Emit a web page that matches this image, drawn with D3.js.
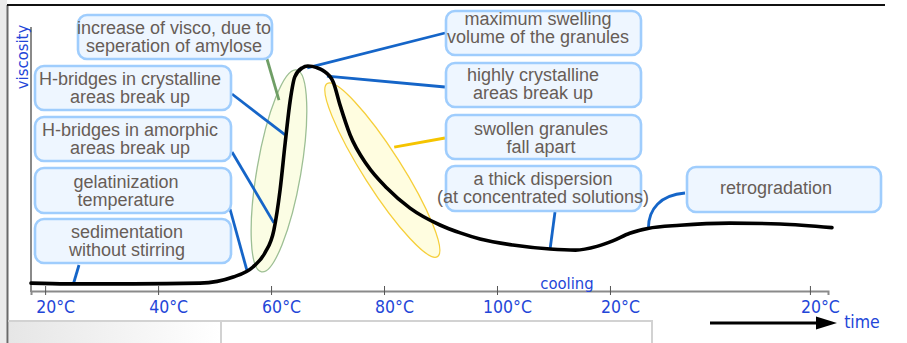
<!DOCTYPE html>
<html><head><meta charset="utf-8">
<script src="https://cdn.jsdelivr.net/npm/d3@7"></script>
<style>
html,body{margin:0;padding:0;background:#fff;}
svg{display:block;}
</style></head>
<body>
<svg id="chart" width="907" height="343"></svg>
<script>
// ---- data ----
const curveX = [17.5, 23.9, 35.6, 47.4, 53.3, 56.8, 58.9, 60.5, 61.6, 62.5, 63.4, 64.2, 65.5, 66.5, 68.1, 69.2, 71.0, 72.2, 74.0, 77.0, 80.5, 84.6, 89.9, 93.5, 97.0, 102.8, 109.4, 113.9, 117.7, 120.5, 123.5, 126.7, 132.4, 141.2, 150.1, 159.3];
const curveY = [3.0, 2.7, 2.7, 3.0, 5.3, 9.1, 14.4, 23.1, 38.3, 56.1, 72.3, 81.1, 84.5, 85.2, 84.6, 83.5, 79.2, 70.5, 59.1, 47.7, 39.0, 31.4, 25.0, 22.0, 19.7, 17.4, 15.9, 15.5, 16.9, 19.0, 21.9, 23.7, 24.9, 25.7, 25.4, 24.0];
const tickValues = [20, 40, 60, 80, 100, 120, 155.4];
const tickLabels = ["20°C", "40°C", "60°C", "80°C", "100°C", "20°C", "20°C"];
const annotationTexts = [
  ["increase of visco, due to", "seperation of amylose"],
  ["H-bridges in crystalline", "areas break up"],
  ["H-bridges in amorphic", "areas break up"],
  ["gelatinization", "temperature"],
  ["sedimentation", "without stirring"],
  ["maximum swelling", "volume of the granules"],
  ["highly crystalline", "areas break up"],
  ["swollen granules", "fall apart"],
  ["a thick dispersion", "(at concentrated solutions)"],
  ["retrogradation"]
];
// anchor points of the connectors, in data units (x, viscosity)
const anchorX = [61.4, 62.5, 60.5, 55.8, 25.0, 66.4, 69.9, 81.8, 109.4, 126.8];
const anchorY = [72.3, 59.1, 25.8, 7.2, 2.65, 84.5, 81.4, 54.5, 15.9, 23.8];
// ellipses (centre in data units)
const ellipseX = [61.4, 79.7];
const ellipseY = [45.5, 45.8];

// ---- layout (pixels) ----
const boxes = [
  {x:78, y:15, w:194, h:44, tx:174, dy:0, from:[267,59], color:"#6f9e66"},
  {x:35, y:66, w:196, h:44, tx:130, dy:0, from:[232,94], color:"#1565c8"},
  {x:35, y:117, w:196, h:44, tx:130, dy:0, from:[232,152], color:"#1565c8"},
  {x:35, y:168, w:196, h:45, tx:126, dy:0, from:[230,209], color:"#1565c8"},
  {x:35, y:219, w:196, h:44, tx:127, dy:0, from:[79,265], color:"#1565c8"},
  {x:446, y:11, w:195, h:44, tx:538, dy:-5.5, from:[445,33], color:"#1565c8"},
  {x:446, y:63, w:195, h:44, tx:533, dy:-1, from:[445,87], color:"#1565c8"},
  {x:446, y:115, w:195, h:44, tx:541, dy:0.5, from:[445,138], color:"#f5c400"},
  {x:446, y:166, w:195, h:45, tx:543, dy:-1, from:[555,212], color:"#1565c8"},
  {x:687, y:167, w:194, h:45, tx:776, dy:-1.5, from:[685,193], color:"#1565c8", arc:true}
];
const ellipseStyle = [
  {rx:22, ry:102.5, rot:9.8, fill:"#fbfde4", stroke:"#9dbf94"},
  {rx:19, ry:102.6, rot:-32.5, fill:"#fffde0", stroke:"#f6cf3a"}
];

const svg = d3.select("#chart");
const x = d3.scaleLinear().domain([17.5, 158.6]).range([31, 828]);
const y = d3.scaleLinear().domain([0, 100]).range([291, 27]);

// ---- frame ----
const defs = svg.append("defs");
const g1 = defs.append("linearGradient").attr("id","lg").attr("x1","0").attr("x2","1");
g1.append("stop").attr("offset","0").attr("stop-color","#e6e6e6");
g1.append("stop").attr("offset","1").attr("stop-color","#ffffff");
svg.append("rect").attr("x",0).attr("y",0).attr("width",7).attr("height",343).attr("fill","#ebebeb");
svg.append("rect").attr("x",9).attr("y",322).attr("width",211).attr("height",21).attr("fill","url(#lg)");
svg.append("line").attr("x1",7.5).attr("x2",7.5).attr("y1",5).attr("y2",343).attr("stroke","#6a6a6a").attr("stroke-width",2);
svg.append("line").attr("x1",7).attr("x2",885).attr("y1",5).attr("y2",5).attr("stroke","#111").attr("stroke-width",2);
svg.append("line").attr("x1",8).attr("x2",653).attr("y1",321).attr("y2",321).attr("stroke","#d2d2d2").attr("stroke-width",2);
[221,652].forEach(v => svg.append("line").attr("x1",v).attr("x2",v).attr("y1",321).attr("y2",343).attr("stroke","#d2d2d2").attr("stroke-width",2));

// ---- ellipses ----
ellipseX.forEach((ex,i) => {
  const s = ellipseStyle[i];
  svg.append("ellipse")
    .attr("transform", `translate(${x(ex)},${y(ellipseY[i])}) rotate(${s.rot})`)
    .attr("rx", s.rx).attr("ry", s.ry)
    .attr("fill", s.fill).attr("stroke", s.stroke).attr("stroke-width", 1.3);
});

// ---- axes ----
const xAxis = d3.axisBottom(x).tickValues(tickValues)
  .tickFormat((d,i) => tickLabels[i]).tickSizeOuter(0).tickSize(4);
const gx = svg.append("g").attr("transform","translate(0,291)").call(xAxis);
gx.select(".domain").attr("stroke","#8a8a8a").attr("stroke-width",2);
gx.selectAll(".tick line").attr("y1",-5).attr("y2",4).attr("stroke","#555").attr("stroke-width",1);
gx.selectAll(".tick text").attr("y",10).attr("dx",10).attr("dy","0.71em")
  .attr("fill","#2346d8").style("font-family","'DejaVu Sans Condensed','DejaVu Sans',sans-serif").style("font-size","17.5px");
svg.append("line").attr("x1",31).attr("x2",31).attr("y1",y(100)).attr("y2",292)
  .attr("stroke","#8a8a8a").attr("stroke-width",2);

const blueTxt = "#2346d8";
svg.append("text").attr("transform","translate(28,57) rotate(-90)").attr("text-anchor","middle")
  .attr("fill",blueTxt).style("font-family","'DejaVu Sans Condensed','Liberation Sans',sans-serif").style("font-size","16.5px").text("viscosity");
svg.append("text").attr("x",567).attr("y",289).attr("text-anchor","middle")
  .attr("fill",blueTxt).style("font-family","'DejaVu Sans Condensed','Liberation Sans',sans-serif").style("font-size","16.5px").text("cooling");
svg.append("text").attr("x",862).attr("y",328).attr("text-anchor","middle")
  .attr("fill",blueTxt).style("font-family","'DejaVu Sans Condensed','Liberation Sans',sans-serif").style("font-size","17.5px").text("time");
// time arrow
svg.append("line").attr("x1",710).attr("x2",820).attr("y1",323).attr("y2",323).attr("stroke","#000").attr("stroke-width",3.2);
svg.append("path").attr("d","M816,316.5 L837,323 L816,329.5 Z").attr("fill","#000");

// ---- connectors ----
boxes.forEach((b,i) => {
  const ax = x(anchorX[i]), ay = y(anchorY[i]);
  if (b.arc) {
    svg.append("path").attr("d",`M${b.from[0]},${b.from[1]} C${ax+12},${b.from[1]+2} ${ax},${b.from[1]+16} ${ax},${ay}`)
      .attr("fill","none").attr("stroke",b.color).attr("stroke-width",2.8);
  } else {
    svg.append("line").attr("x1",b.from[0]).attr("y1",b.from[1]).attr("x2",ax).attr("y2",ay)
      .attr("stroke",b.color).attr("stroke-width",2.8);
  }
});

// ---- curve ----
const pts = curveX.map((v,i) => [v, curveY[i]]);
const line = d3.line().x(d => x(d[0])).y(d => y(d[1])).curve(d3.curveMonotoneX);
svg.append("path").datum(pts).attr("d", line).attr("fill","none")
  .attr("stroke","#000").attr("stroke-width",3.6).attr("stroke-linecap","round").attr("stroke-linejoin","round");

// ---- boxes ----
boxes.forEach((b,i) => {
  svg.append("rect").attr("x",b.x).attr("y",b.y).attr("width",b.w).attr("height",b.h)
    .attr("rx",9).attr("ry",9).attr("fill","#eef6ff").attr("stroke","#9fcdfd").attr("stroke-width",2.6);
  const lines = annotationTexts[i];
  const cy = b.y + b.h/2 + b.dy;
  const lh = 18.2;
  const t = svg.append("text").attr("text-anchor","middle").attr("fill","#675d57")
    .style("font-family","'Liberation Sans',Arial,sans-serif").style("font-size","18px");
  lines.forEach((s,k) => {
    const c = cy + (k - (lines.length-1)/2) * lh;
    t.append("tspan").attr("x",b.tx).attr("y",c + 6.3).text(s);
  });
});
</script>
</body></html>
